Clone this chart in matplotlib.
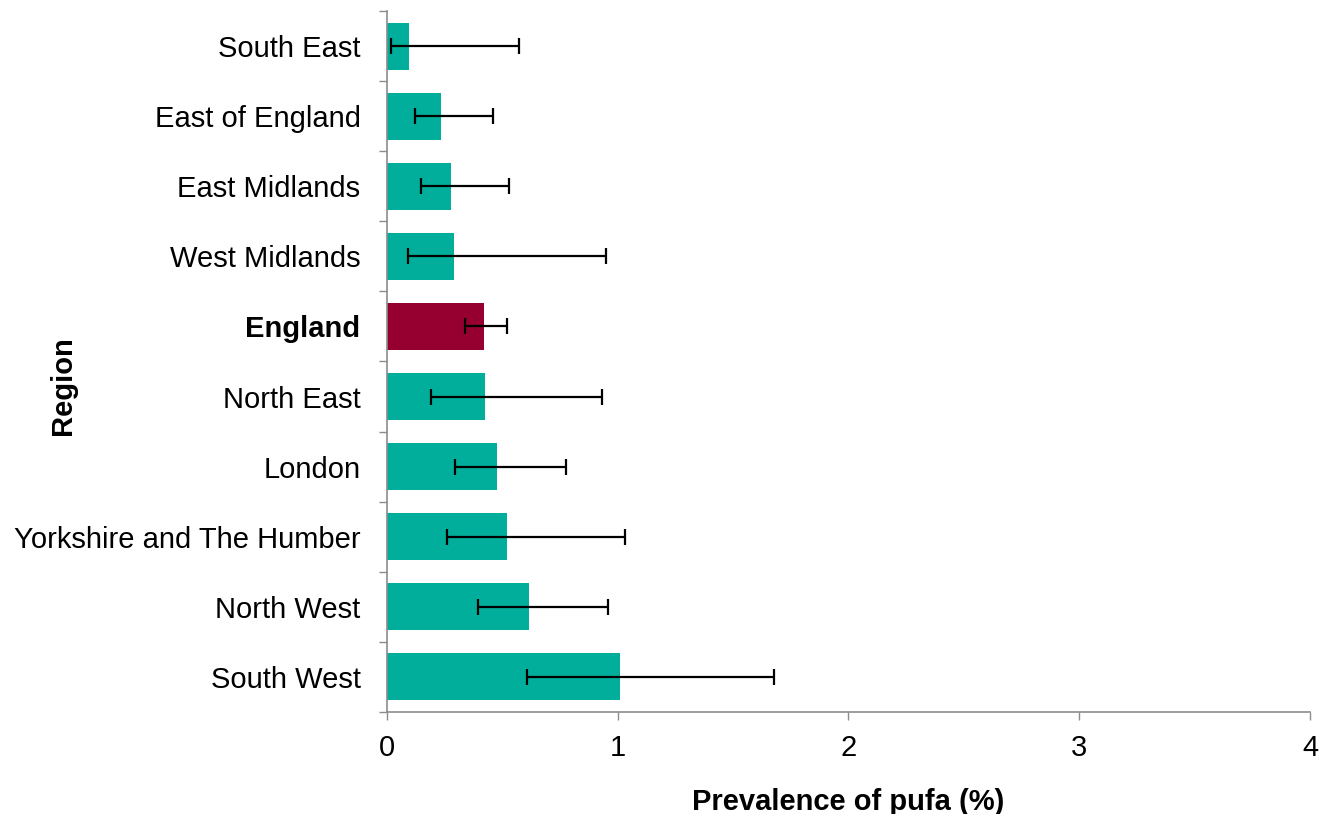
import numpy as np
import matplotlib
matplotlib.use("Agg")
import matplotlib.pyplot as plt

# Regions listed top to bottom
regions = ["South East", "East of England", "East Midlands", "West Midlands", "England",
           "North East", "London", "Yorkshire and The Humber", "North West", "South West"]
prevalence = [0.094, 0.233, 0.276, 0.290, 0.419, 0.423, 0.478, 0.518, 0.616, 1.012]
ci_low = [0.016, 0.120, 0.146, 0.090, 0.338, 0.191, 0.296, 0.261, 0.395, 0.609]
ci_high = [0.571, 0.458, 0.530, 0.950, 0.519, 0.930, 0.774, 1.033, 0.958, 1.676]

TEAL = "#00ae9b"
WINE = "#960030"
AXIS_GREY = "#8c8c8c"

plt.rcParams["font.family"] = ["Liberation Sans", "DejaVu Sans"]

fig = plt.figure(figsize=(13.28, 8.14), dpi=100)
ax = fig.add_axes([0.2914, 0.1253, 0.6950, 0.8612])

y = np.arange(len(regions))
vals = np.array(prevalence)
xerr = np.vstack([vals - np.array(ci_low), np.array(ci_high) - vals])
colors = [WINE if r == "England" else TEAL for r in regions]

ax.barh(y, vals, height=0.67, color=colors, zorder=2)
ax.errorbar(vals, y, xerr=xerr, fmt="none", ecolor="black", elinewidth=1.6,
            capsize=6, capthick=1.6, zorder=3)

ax.set_xlim(0, 4)
ax.set_ylim(len(regions) - 0.5, -0.5)
ax.set_xticks(range(5))
ax.set_yticks(y)
ax.set_yticklabels(regions)
ax.set_yticks(np.arange(len(regions) + 1) - 0.5, minor=True)

for lbl in ax.get_yticklabels():
    if lbl.get_text() == "England":
        lbl.set_fontweight("bold")

ax.tick_params(axis="y", which="major", length=0, pad=19, labelsize=21)
ax.tick_params(axis="y", which="minor", length=6, width=1, color=AXIS_GREY, direction="out")
ax.tick_params(axis="x", which="major", length=6, width=1, color=AXIS_GREY,
               direction="out", pad=10, labelsize=21)

for side in ["top", "right"]:
    ax.spines[side].set_visible(False)
for side in ["left", "bottom"]:
    ax.spines[side].set_color(AXIS_GREY)
    ax.spines[side].set_linewidth(1.2)

ax.set_xlabel("Prevalence of pufa (%)", fontsize=21, fontweight="bold")
ax.xaxis.set_label_coords(0.5, -0.108)
ax.set_ylabel("Region", fontsize=21, fontweight="bold")
ax.yaxis.set_label_coords(-0.336, 0.466)

fig.savefig("out.png", dpi=100)
